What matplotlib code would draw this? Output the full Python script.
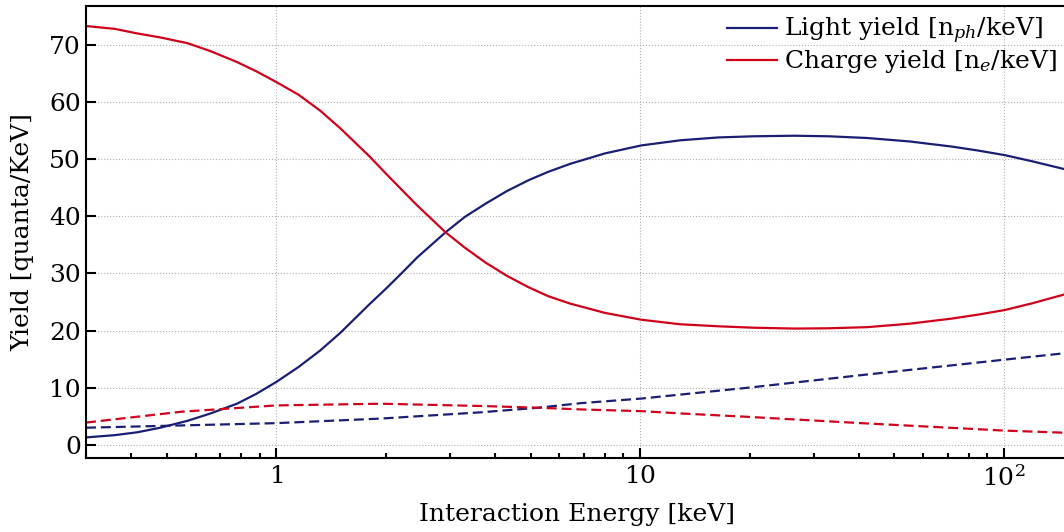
import numpy as np
import matplotlib
matplotlib.use("Agg")
import matplotlib.pyplot as plt

# energies [keV] and yields
e_solid = [0.3, 0.36, 0.415, 0.48, 0.57, 0.66, 0.78, 0.88, 1.0, 1.15, 1.32, 1.5, 1.81,
           2.0, 2.2, 2.44, 2.92, 3.3, 3.76, 4.3, 4.93, 5.6, 6.44, 8.0, 10.07, 12.9,
           16.4, 20.5, 26.6, 33.0, 42.1, 55.0, 71.9, 85.0, 100.6, 120.0, 150.0]
light_solid = [1.3, 1.7, 2.2, 3.0, 4.2, 5.5, 7.2, 8.9, 11.0, 13.6, 16.5, 19.6, 24.7,
               27.3, 29.9, 32.8, 37.2, 39.9, 42.2, 44.4, 46.3, 47.8, 49.2, 51.0, 52.4, 53.3,
               53.8, 54.0, 54.1, 54.0, 53.7, 53.1, 52.2, 51.5, 50.7, 49.6, 48.1]
charge_solid = [73.3, 72.8, 72.0, 71.3, 70.3, 68.9, 67.0, 65.4, 63.5, 61.3, 58.5, 55.4, 50.4,
                47.5, 44.8, 41.9, 37.2, 34.5, 31.9, 29.6, 27.6, 26.0, 24.7, 23.1, 21.9, 21.1,
                20.75, 20.5, 20.35, 20.4, 20.6, 21.2, 22.1, 22.8, 23.6, 24.8, 26.5]

e_dash = [0.3, 0.549, 1.0, 1.94, 3.66, 5.25, 6.88, 10.07, 12.9, 19.8, 40.5, 100.0, 150.0]
light_dash = [3.0, 3.4, 3.8, 4.6, 5.7, 6.5, 7.3, 8.1, 8.8, 10.0, 12.2, 14.9, 16.1]
charge_dash = [3.9, 5.8, 6.9, 7.2, 6.8, 6.5, 6.2, 5.9, 5.5, 4.9, 3.8, 2.5, 2.1]

navy = '#1b1f73'
red = '#d0021b'

plt.rcParams['font.family'] = 'DejaVu Serif'
plt.rcParams['mathtext.fontset'] = 'dejavuserif'
plt.rcParams['font.size'] = 18
plt.rcParams['axes.formatter.min_exponent'] = 2

fig = plt.figure(figsize=(10.64, 5.32), dpi=100)
ax = fig.add_axes([0.0808, 0.1391, 0.923, 0.8496])

ax.plot(e_solid, light_solid, c=navy, lw=1.6, label=r"Light yield [n$_{ph}$/keV]")
ax.plot(e_solid, charge_solid, c=red, lw=1.6, label=r"Charge yield [n$_{e}$/keV]")
ax.plot(e_dash, light_dash, c=navy, lw=1.6, ls=(0, (4.5, 2.2)))
ax.plot(e_dash, charge_dash, c=red, lw=1.6, ls=(0, (4.5, 2.2)))

ax.set_xscale('log')
ax.set_xlim(0.3, 150)
ax.set_ylim(-2.3, 76.8)
ax.set_yticks(range(0, 80, 10))
ax.grid(True, which='major', ls=':', c='#b0b0b0', lw=0.8)

ax.tick_params(which='both', direction='in', top=False, right=False, width=1.5)
ax.tick_params(which='major', length=7)
ax.tick_params(which='minor', length=3.5)
ax.tick_params(axis='x', pad=5)
for s in ax.spines.values():
    s.set_linewidth(1.5)

ax.set_xlabel("Interaction Energy [keV]", labelpad=9)
ax.set_ylabel("Yield [quanta/KeV]", labelpad=11)
ax.legend(loc='upper right', frameon=False, borderaxespad=0.0, handletextpad=0.3,
          labelspacing=0.08, bbox_to_anchor=(0.999, 1.0))

fig.savefig("out.png", dpi=100)
